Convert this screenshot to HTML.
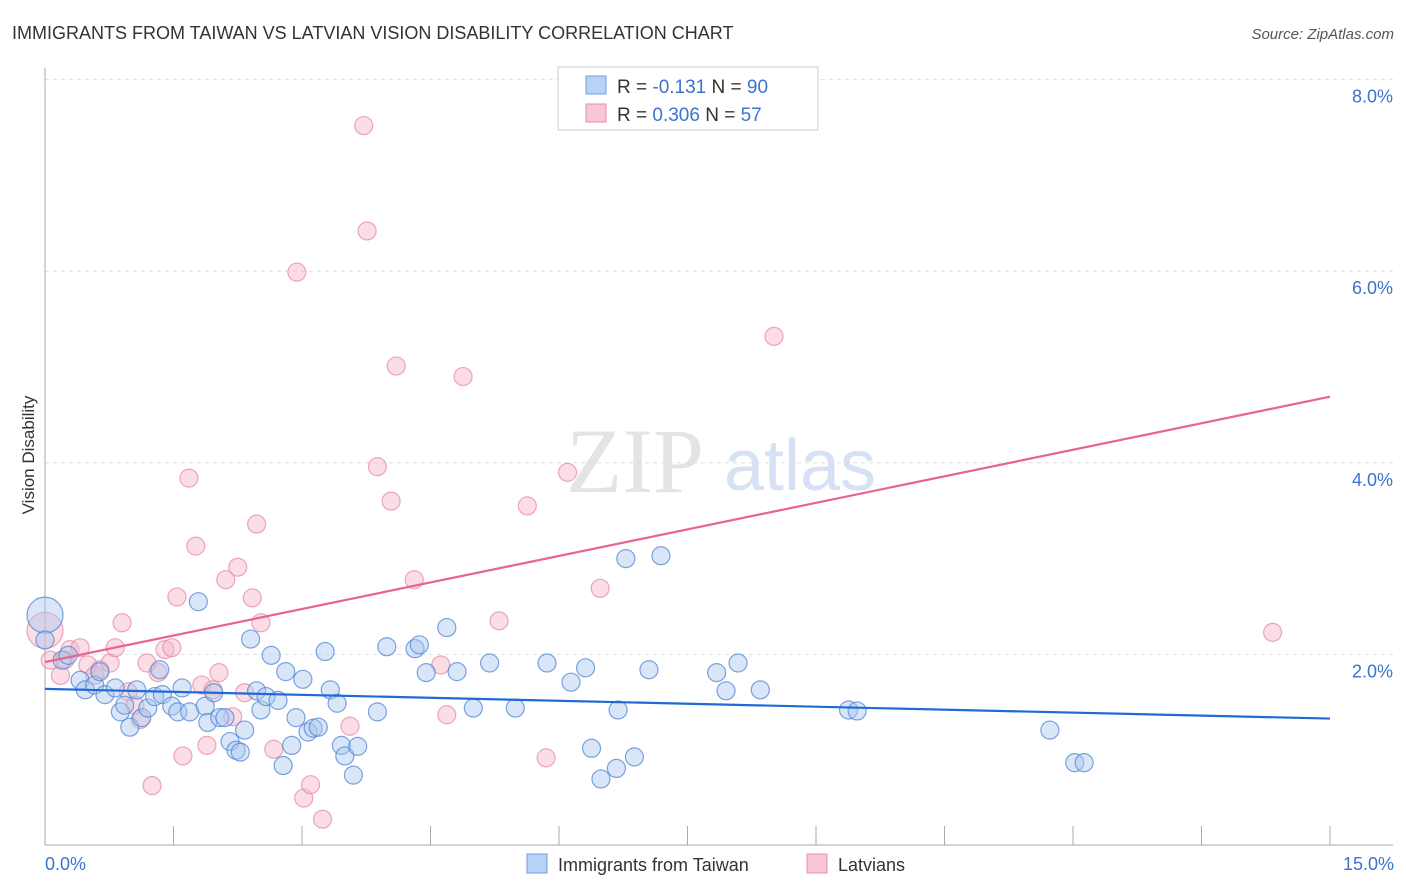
<!DOCTYPE html>
<html><head><meta charset="utf-8"><style>
body{margin:0;background:#fff;font-family:"Liberation Sans",sans-serif;}
#wrap{position:relative;width:1406px;height:892px;overflow:hidden;}
</style></head><body>
<div id="wrap">
<svg id="chart" width="1406" height="892" style="position:absolute;left:0;top:0">
<text x="12" y="39" font-size="18" fill="#333">IMMIGRANTS FROM TAIWAN VS LATVIAN VISION DISABILITY CORRELATION CHART</text>
<text x="1394" y="39" font-size="15" fill="#555" font-style="italic" text-anchor="end">Source: ZipAtlas.com</text>
<text x="34" y="455" font-size="17" fill="#333" transform="rotate(-90 34 455)" text-anchor="middle">Vision Disability</text>
<g>
<text x="635" y="492" font-size="92" font-family="Liberation Serif,serif" fill="#e4e4e4" text-anchor="middle">ZIP</text>
<text x="800" y="490" font-size="72" fill="#d6e2f3" text-anchor="middle">atlas</text>
</g>
<g id="grid"></g><g id="axes"></g><g id="pts"></g><g id="lines"></g>
<g>
<rect x="558" y="67" width="260" height="63" fill="#fff" stroke="#ccc"/>
<rect x="586" y="76" width="20" height="18" fill="#b8d2f5" stroke="#6f9ee0"/>
<rect x="586" y="104" width="20" height="18" fill="#f8c6d4" stroke="#e98fab"/>
<text x="617" y="93" font-size="19" fill="#333">R = <tspan fill="#3b73d1">-0.131</tspan>   N = <tspan fill="#3b73d1">90</tspan></text>
<text x="617" y="121" font-size="19" fill="#333">R = <tspan fill="#3b73d1">0.306</tspan>   N = <tspan fill="#3b73d1"> 57</tspan></text>
</g>
<g>
<rect x="527" y="854" width="20" height="19" fill="#b8d2f5" stroke="#6f9ee0"/>
<text x="558" y="871" font-size="18" fill="#333">Immigrants from Taiwan</text>
<rect x="807" y="854" width="20" height="19" fill="#f8c6d4" stroke="#e98fab"/>
<text x="838" y="871" font-size="18" fill="#333">Latvians</text>
</g>
</svg>
</div>
<script>
const xTicks=[0,1.5,3,4.5,6,7.5,9,10.5,12,13.5,15];
const yTicks=[2,4,6,8];
const yTickLabels=["2.0%","4.0%","6.0%","8.0%"];
const xTickLabels=["0.0%","15.0%"];
const taiwanX=[0,0,0.20,0.27,0.41,0.47,0.58,0.64,0.70,0.82,0.88,0.93,0.99,1.07,1.13,1.20,1.28,1.34,1.37,1.48,1.55,1.60,1.69,1.79,1.87,1.90,1.97,2.04,2.10,2.16,2.23,2.28,2.33,2.40,2.47,2.52,2.58,2.64,2.72,2.78,2.81,2.88,2.93,3.01,3.07,3.13,3.19,3.27,3.33,3.41,3.46,3.50,3.60,3.65,3.88,3.99,4.32,4.37,4.45,4.69,4.81,5.00,5.19,5.49,5.86,6.14,6.31,6.38,6.49,6.67,6.69,6.78,6.88,7.05,7.19,7.84,7.95,8.09,8.35,9.38,9.48,11.73,12.02,12.13];
const taiwanY=[2.41,2.15,1.94,1.99,1.73,1.63,1.68,1.82,1.58,1.65,1.40,1.47,1.24,1.63,1.34,1.44,1.56,1.84,1.58,1.46,1.40,1.65,1.40,2.55,1.46,1.29,1.60,1.34,1.34,1.09,1.00,0.98,1.21,2.16,1.62,1.42,1.56,1.99,1.52,0.84,1.82,1.05,1.34,1.74,1.19,1.23,1.24,2.03,1.63,1.49,1.05,0.94,0.74,1.04,1.40,2.08,2.06,2.10,1.81,2.28,1.82,1.44,1.91,1.44,1.91,1.71,1.86,1.02,0.70,0.81,1.42,3.00,0.93,1.84,3.03,1.81,1.62,1.91,1.63,1.42,1.41,1.21,0.87,0.87];
const latviaX=[0,0.06,0.18,0.23,0.29,0.41,0.50,0.58,0.64,0.76,0.82,0.90,0.97,1.05,1.11,1.19,1.25,1.32,1.40,1.48,1.54,1.61,1.68,1.76,1.83,1.89,1.96,2.03,2.11,2.19,2.25,2.33,2.42,2.47,2.52,2.67,3.02,3.10,2.94,3.24,3.56,3.72,3.76,3.88,4.04,4.10,4.31,4.62,4.69,4.88,5.30,5.63,5.85,6.10,6.48,8.51,14.33];
const latviaY=[2.25,1.94,1.78,1.94,2.05,2.07,1.89,1.78,1.84,1.91,2.07,2.33,1.61,1.47,1.32,1.91,0.63,1.81,2.05,2.07,2.60,0.94,3.84,3.13,1.68,1.05,1.63,1.81,2.78,1.35,2.91,1.60,2.59,3.36,2.33,1.01,0.50,0.64,5.99,0.28,1.25,7.52,6.42,3.96,3.60,5.01,2.78,1.89,1.37,4.90,2.35,3.55,0.92,3.90,2.69,5.32,2.23];
const taiwanTrend=[1.64,1.33];
const latviaTrend=[1.92,4.69];
const X0=45,X1=1330,YB=846;
const sx=v=>X0+v/15*(X1-X0);
const sy=v=>YB-v*95.8;
const NS="http://www.w3.org/2000/svg";
function mk(tag,parent,attrs){const e=document.createElementNS(NS,tag);for(const k in attrs)e.setAttribute(k,attrs[k]);parent.appendChild(e);return e;}
const grid=document.getElementById('grid'),axes=document.getElementById('axes'),pts=document.getElementById('pts'),lines=document.getElementById('lines');
yTicks.forEach((t,i)=>{
 const l=mk('line',grid,{x1:X0,x2:1393,y1:sy(t),y2:sy(t),stroke:'#ddd','stroke-dasharray':'4 4'});
 
 
 const tx=mk('text',axes,{x:1393,y:sy(t)+23,'text-anchor':'end','font-size':18,fill:'#3b73d1'});
 tx.textContent=yTickLabels[i];
 
 
});
const xl=mk('line',axes,{x1:X0,x2:1393,y1:845,y2:845,stroke:'#aaa'});


const yl=mk('line',axes,{x1:X0,x2:X0,y1:68,y2:845,stroke:'#aaa'});


xTicks.forEach(t=>{
 const l=mk('line',axes,{x1:sx(t),x2:sx(t),y1:826,y2:845,stroke:'#aaa'});
 
 
});
const xa=mk('text',axes,{x:45,y:870,'font-size':18,fill:'#3b73d1'});xa.textContent=xTickLabels[0];


const xb=mk('text',axes,{x:1394,y:870,'font-size':18,fill:'#3b73d1','text-anchor':'end'});xb.textContent=xTickLabels[1];


function series(xs,ys,fill,stroke,name){
 xs.forEach((x,i)=>{
  const r=i===0?18:9;
  const c=mk('circle',pts,{cx:sx(x),cy:sy(ys[i]),r:r,fill:fill,'fill-opacity':0.45,stroke:stroke,'stroke-opacity':0.75,'stroke-width':1.2});
  
  
 });
}
series(latviaX,latviaY,'#f5b3c6','#e88aa5','latvians-point');
series(taiwanX,taiwanY,'#aac8f0','#4f86d6','taiwan-point');
const t1=mk('line',lines,{x1:sx(0),y1:sy(taiwanTrend[0]),x2:sx(15),y2:sy(taiwanTrend[1]),stroke:'#1f6ad6','stroke-width':2.2});


const t2=mk('line',lines,{x1:sx(0),y1:sy(latviaTrend[0]),x2:sx(15),y2:sy(latviaTrend[1]),stroke:'#e8648e','stroke-width':2.2});


</script>
</body></html>
